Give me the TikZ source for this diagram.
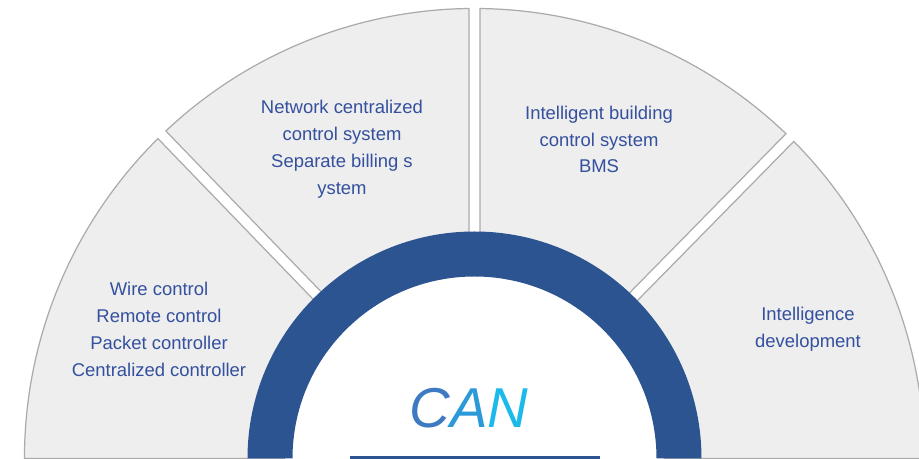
\documentclass[tikz,border=0pt]{standalone}
\usepackage{fontspec}
\setmainfont{Liberation Sans}
\definecolor{ringblue}{HTML}{2B5490}
\definecolor{txtblue}{HTML}{34509E}
\definecolor{secfill}{HTML}{EEEEEE}
\definecolor{secline}{HTML}{ABABAB}
\definecolor{canC}{HTML}{3D7AC2}
\definecolor{canA}{HTML}{2C99D8}
\definecolor{canN}{HTML}{1BBAEA}
\tikzset{
  sector/.style={fill=secfill,draw=secline,line width=0.7pt},
  sectext/.style={text=txtblue,align=center,inner sep=0pt,font=\fontsize{10.5}{15.3}\selectfont}
}

\begin{document}
\begin{tikzpicture}[x=0.02cm,y=0.02cm]
\useasboundingbox (-474.5,-0.5) rectangle (444.5,458.5);

\foreach \a/\b/\oa/\ob in {0/45.5/0/5.5,45.5/90/5.5/5.5,90/134/5.5/5.5,134/180/5.5/0}
  \draw[sector] ([shift={(\a+90:\oa)}]\a:190) -- ([shift={(\a+90:\oa)}]\a:450)
    arc({\a+asin(\oa/450)}:{\b-asin(\ob/450)}:450) -- ([shift={(\b-90:\ob)}]\b:190) -- cycle;

\fill[white] (182,0) arc(0:180:182) -- cycle;
\fill[ringblue] (227,0) arc(0:180:227) -- (-182,0) arc(180:0:182) -- cycle;

\node[sectext] (wire) at (-315.5,129) {Wire control\\Remote control\\Packet controller\\Centralized controller};
\node[sectext] (network) at (-132.5,309) {Network centralized\\control system\\Separate billing s\\ystem};
\node[sectext] (bms) at (124.5,319) {Intelligent building\\control system\\BMS};
\node[sectext] (intel) at (333.5,129.5) {Intelligence\\development};

\node[anchor=base,inner sep=0pt,font=\fontsize{32}{32}\selectfont\itshape] (can) at (-5.5,31)
  {\textcolor{canC}{C}\textcolor{canA}{A}\textcolor{canN}{N}};
\coordinate (ul) at (-124.5,1);
\coordinate (ur) at (125.5,1);
\draw[ringblue,line width=1.2pt] (ul) -- (ur);
\end{tikzpicture}
\end{document}
